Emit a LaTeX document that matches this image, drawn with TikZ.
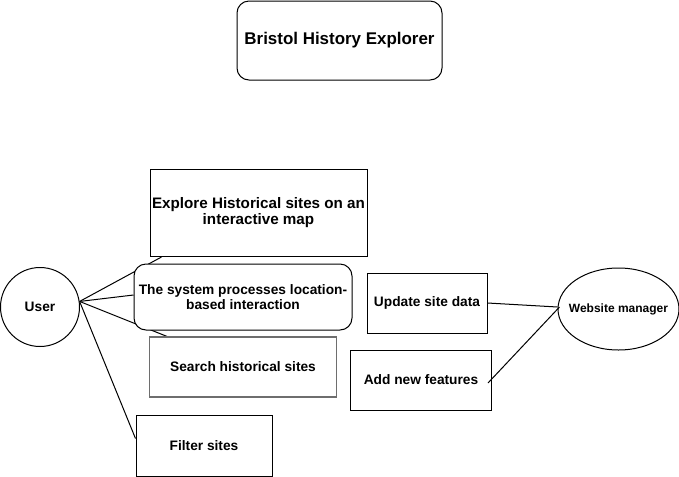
\documentclass[tikz,border=0pt]{standalone}
\usepackage{fontspec}
\setmainfont{Liberation Sans}
\usetikzlibrary{shapes.geometric, positioning, calc, backgrounds}
\definecolor{searchgray}{RGB}{110,110,110}
\def\px{0.75pt}

\begin{document}
\begin{tikzpicture}[
    x=0.75pt, y=-0.75pt,
    box/.style={rectangle, draw=black, fill=white, line width=\px, text centered, align=center, font=\fontsize{10.3}{11.5}\selectfont\bfseries, inner sep=2pt},
    rbox/.style={box, rounded corners=9pt},
    actor/.style={draw=black, fill=white, line width=\px, text centered, font=\fontsize{10.3}{11.5}\selectfont\bfseries},
    link/.style={line width=\px}
]
\useasboundingbox (0,0) rectangle (679,476);

% Title
\node[rbox, minimum width=205*\px, minimum height=79*\px, font=\fontsize{12.7}{15}\selectfont\bfseries] (title) at (339.5,40.5) {Bristol History Explorer};

% Actors
\node[actor, circle, minimum size=79*\px, inner sep=0pt] (user) at (40,307) {User};
\node[actor, ellipse, minimum width=121*\px, minimum height=82*\px, inner sep=0pt, font=\fontsize{9}{11}\selectfont\bfseries] (manager) at (618.5,309) {\makebox[0pt]{Website manager}};

% User cases
\node[box, minimum width=217*\px, minimum height=87*\px, inner xsep=0pt, font=\fontsize{11.4}{12}\selectfont\bfseries] (explore) at (258.5,213) {Explore Historical sites on an\\interactive map};
\node[rbox, minimum width=218*\px, minimum height=66*\px] (system) at (243,297) {The system processes location-\\based interaction};
\node[box, draw=searchgray, line width=1.3*\px, minimum width=187*\px, minimum height=60*\px] (search) at (243,367) {Search historical sites};
\node[box, minimum width=136*\px, minimum height=61*\px] (filter) at (204,445.5) {Filter sites};

% Manager cases
\node[box, minimum width=120*\px, minimum height=60*\px] (update) at (427,303) {Update site data};
\node[box, minimum width=141*\px, minimum height=60*\px] (addfeat) at (421,380) {Add new features};

% Connectors
\begin{scope}[on background layer]
\draw[link] (user.8) -- ($(explore.south west)+(12,0)$);
\draw[link] (user.8) -- ($(system.west)+(0,-2)$);
\draw[link] (user.8) -- ($(search.north west)+(18,0)$);
\draw[link] (user.8) -- ($(filter.west)+(0,-7)$);
\end{scope}
\draw[link] (update.east) -- ($(manager.west)+(0,-2)$);
\draw[link] ($(addfeat.east)+(-4,3)$) -- ($(manager.west)+(2,-2)$);

\end{tikzpicture}
\end{document}
